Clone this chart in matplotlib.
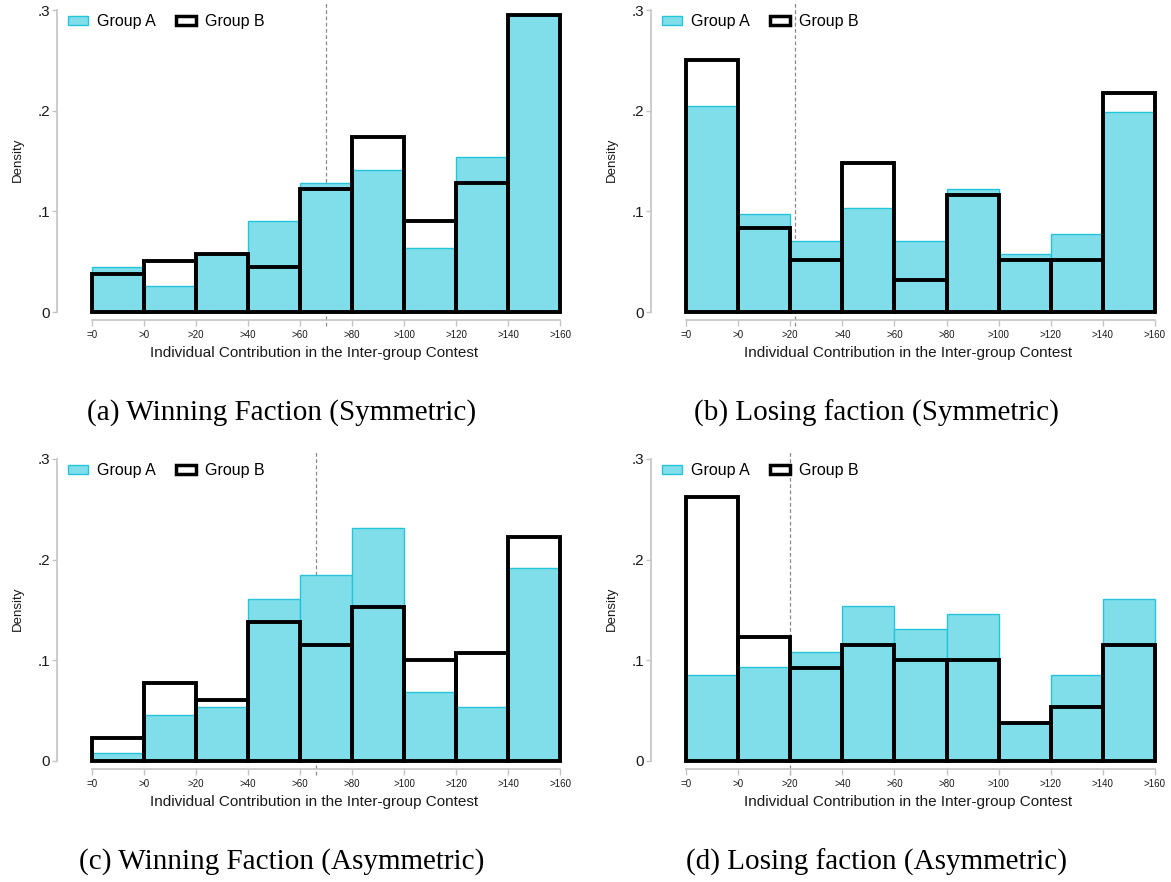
import numpy as np
import matplotlib
matplotlib.use("Agg")
import matplotlib.pyplot as plt
from matplotlib.patches import Patch

plt.rcParams["font.family"] = ["Liberation Sans", "DejaVu Sans"]

# ------------------------------------------------------------------------------
bin_labels = ["=0", ">0", ">20", ">40", ">60", ">80", ">100", ">120", ">140", ">160"]
y_ticks = [0, 0.1, 0.2, 0.3]
y_tick_labels = ["0", ".1", ".2", ".3"]

# density per contribution bin, one list per group
win_sym_a = [0.045, 0.026, 0.058, 0.090, 0.128, 0.141, 0.064, 0.154, 0.295]
win_sym_b = [0.038, 0.051, 0.058, 0.045, 0.122, 0.174, 0.090, 0.128, 0.295]
lose_sym_a = [0.205, 0.097, 0.071, 0.103, 0.071, 0.122, 0.058, 0.077, 0.199]
lose_sym_b = [0.250, 0.083, 0.052, 0.148, 0.032, 0.116, 0.052, 0.052, 0.218]
win_asym_a = [0.008, 0.046, 0.054, 0.161, 0.185, 0.231, 0.069, 0.054, 0.192]
win_asym_b = [0.023, 0.077, 0.061, 0.138, 0.115, 0.153, 0.100, 0.107, 0.223]
lose_asym_a = [0.085, 0.093, 0.108, 0.154, 0.131, 0.146, 0.038, 0.085, 0.161]
lose_asym_b = [0.262, 0.123, 0.092, 0.115, 0.100, 0.100, 0.038, 0.054, 0.115]

# mean contribution marker, in bin units
mean_lines = [4.50, 2.10, 4.30, 2.00]

captions = [
    "(a) Winning Faction (Symmetric)",
    "(b) Losing faction (Symmetric)",
    "(c) Winning Faction (Asymmetric)",
    "(d) Losing faction (Asymmetric)",
]
# ------------------------------------------------------------------------------

W, H = 1171, 882
fill_a = "#80deea"
edge_a = "#26c4da"
axis_grey = "#c4c4c4"
text_col = "#1a1a1a"

# plot regions in pixels: (x at bin 0, x at bin 9, y at 0, y at .3)
regions = [
    (92, 560, 312, 10),
    (686, 1155, 312, 10),
    (92, 560, 761, 459),
    (686, 1155, 761, 459),
]
spine_x = [57, 651, 57, 651]
caption_xy = [(282, 413), (876, 413), (282, 862), (876, 862)]

panels = [
    (win_sym_a, win_sym_b),
    (lose_sym_a, lose_sym_b),
    (win_asym_a, win_asym_b),
    (lose_asym_a, lose_asym_b),
]

fig = plt.figure(figsize=(W / 100, H / 100), dpi=100)
px2pt = 72 / 100


def draw_panel(ax, a_vals, b_vals, mean_x, x0, x1, y0, y1, sx):
    edges = np.arange(len(bin_labels))
    ax.plot([mean_x, mean_x], [-0.014, 0.309], color="#8a8a8a",
            linestyle=(0, (3, 2)), linewidth=0.9, clip_on=False, zorder=1)
    ax.bar(edges[:-1], a_vals, width=1, align="edge", color=fill_a,
           edgecolor=edge_a, linewidth=1.0, clip_on=False, zorder=2)
    ax.bar(edges[:-1], b_vals, width=1, align="edge", fill=False,
           edgecolor="black", linewidth=2.8, clip_on=False, zorder=3)

    ax.set_xlim(0, 9)
    ax.set_ylim(0, 0.3)
    for s in ["top", "right"]:
        ax.spines[s].set_visible(False)
    ax.spines["left"].set_position(("outward", (x0 - sx) * px2pt))
    ax.spines["bottom"].set_position(("outward", 8 * px2pt))
    ax.spines["left"].set_bounds(0, 0.3)
    ax.spines["bottom"].set_bounds(0, 9)
    for s in ["left", "bottom"]:
        ax.spines[s].set_color(axis_grey)
        ax.spines[s].set_linewidth(1.2)

    ax.set_xticks(edges)
    ax.set_xticklabels(bin_labels)
    ax.set_yticks(y_ticks)
    ax.set_yticklabels(y_tick_labels)
    ax.tick_params(axis="x", length=4.5, width=1, color=axis_grey,
                   labelsize=7, pad=3, labelcolor=text_col)
    ax.tick_params(axis="y", length=3.5, width=1, color=axis_grey,
                   labelsize=11, pad=1.5, labelcolor=text_col)

    h = y0 - y1
    w = x1 - x0
    ax.set_ylabel("Density", fontsize=9.5, color=text_col)
    ax.yaxis.set_label_coords((sx - 33 - x0) / w, 152 / h)
    ax.set_xlabel("Individual Contribution in the Inter-group Contest",
                  fontsize=11, color=text_col)
    ax.xaxis.set_label_coords(0.474, -41 / h)
    ax.xaxis.label.set_va("center")

    handles = [
        Patch(facecolor=fill_a, edgecolor=edge_a, linewidth=1.0, label="Group A"),
        Patch(facecolor="white", edgecolor="black", linewidth=2.5, label="Group B"),
    ]
    ax.legend(handles=handles, loc="upper left", ncol=2, frameon=False,
              bbox_to_anchor=((sx + 11 - x0) / w, 1.0 - 4 / h),
              borderpad=0, borderaxespad=0, fontsize=11.5,
              handlelength=1.25, handleheight=0.5, handletextpad=0.56,
              columnspacing=1.25)


for i, (a_vals, b_vals) in enumerate(panels):
    x0, x1, y0, y1 = regions[i]
    rect = [x0 / W, (H - y0) / H, (x1 - x0) / W, (y0 - y1) / H]
    ax = fig.add_axes(rect)
    draw_panel(ax, a_vals, b_vals, mean_lines[i], x0, x1, y0, y1, spine_x[i])
    cx, cy = caption_xy[i]
    fig.text(cx / W, 1 - cy / H, captions[i], ha="center", va="center",
             fontsize=21, family="Liberation Serif", color="black")

fig.savefig("out.png", dpi=100)
